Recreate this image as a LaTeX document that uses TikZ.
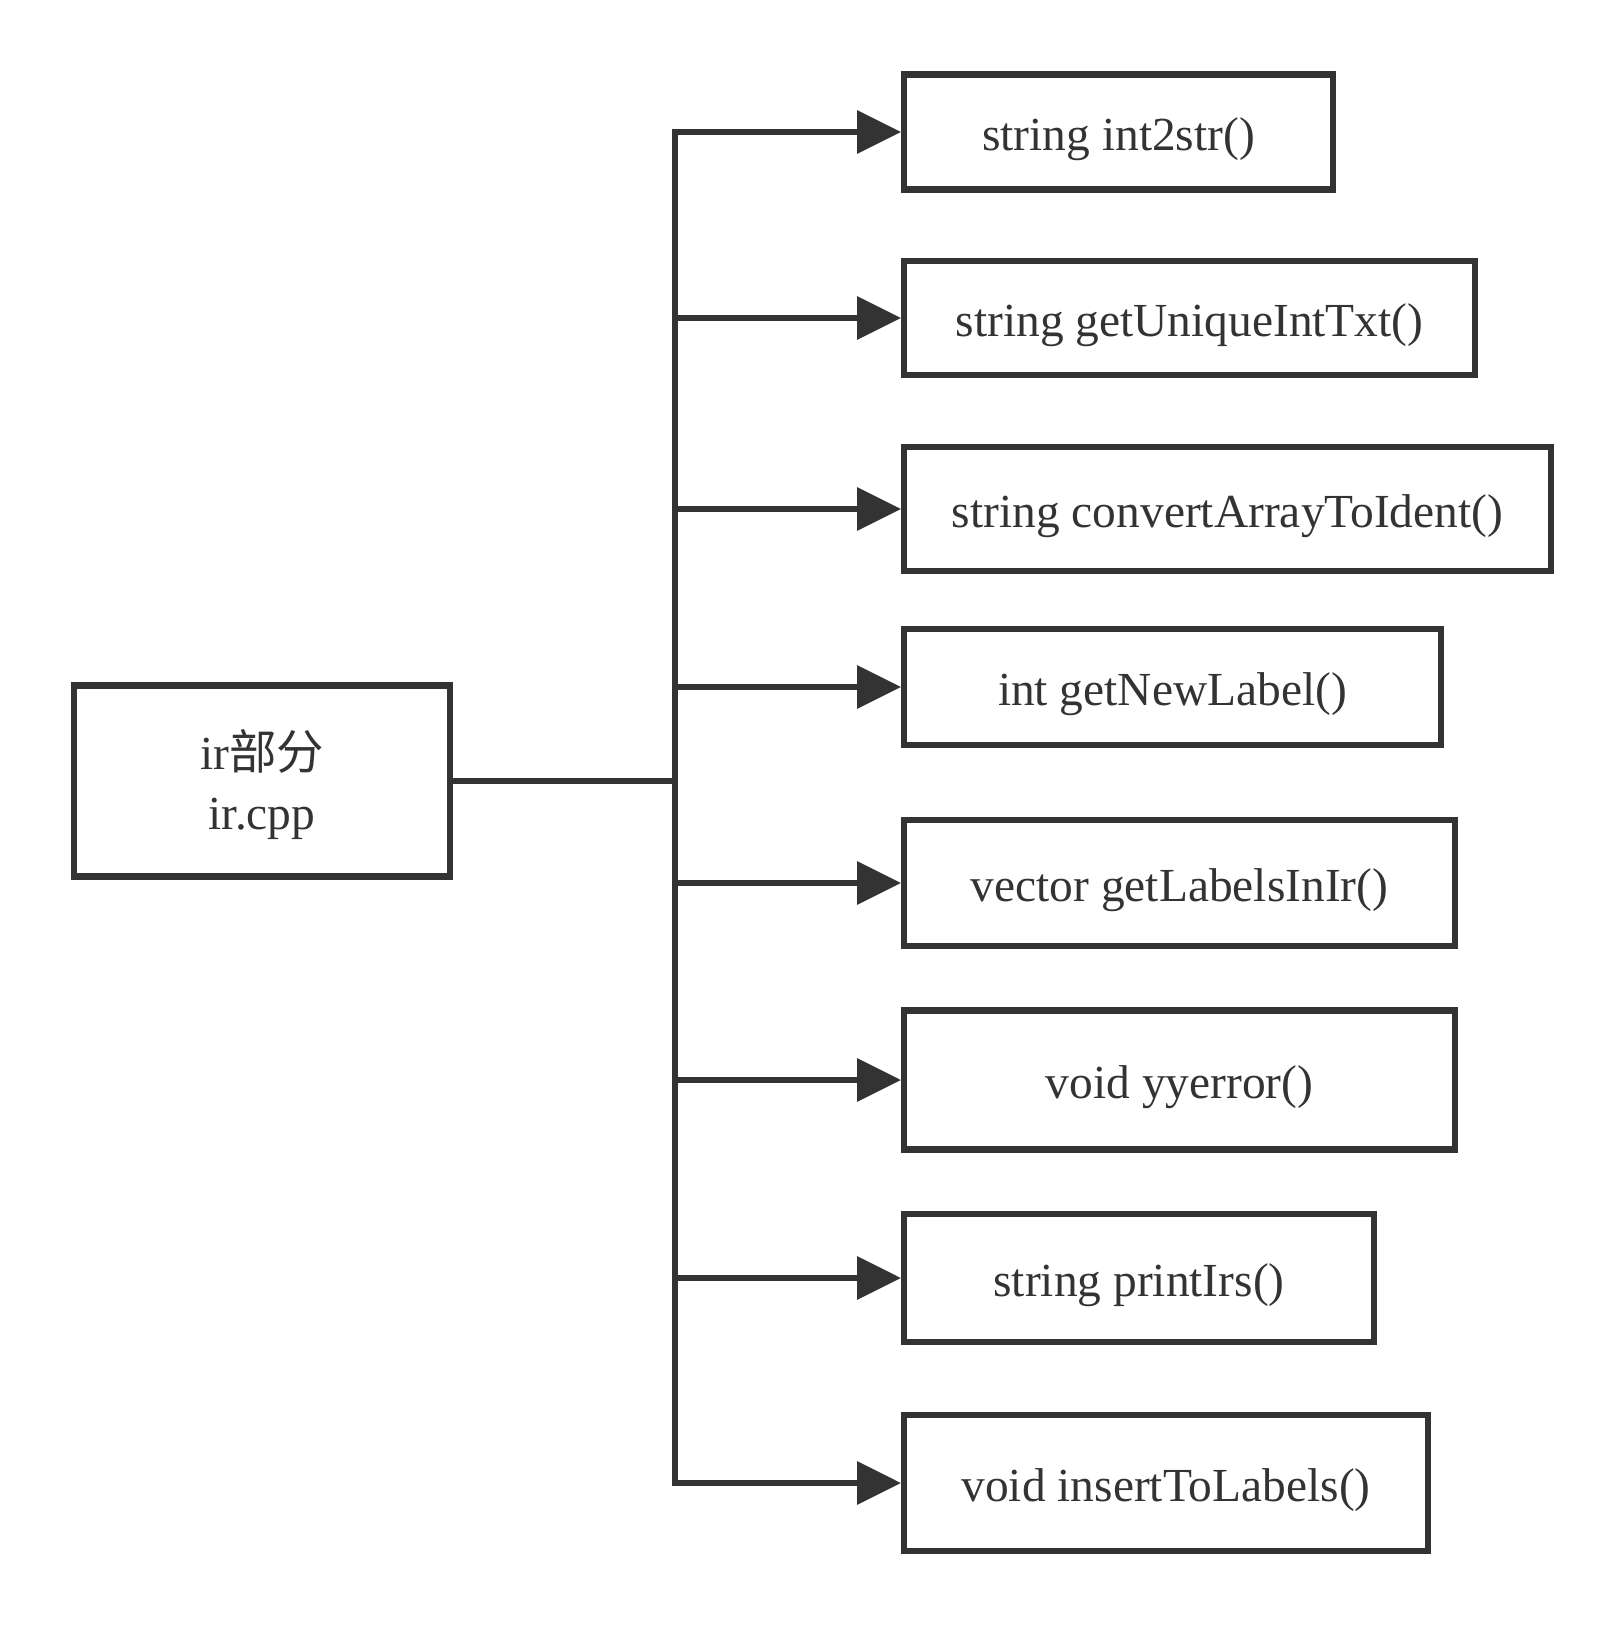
\documentclass[tikz,border=0pt]{standalone}
\usepackage{fontspec}
\setmainfont{Liberation Serif}
\newfontfamily\cjk{Noto Sans CJK SC}
\usetikzlibrary{arrows.meta}
\definecolor{irLine}{RGB}{51,51,51}

\begin{document}
\begin{tikzpicture}[x=0.02cm, y=-0.02cm,
    irBox/.style={draw=irLine, line width=3.5pt, text=irLine, inner sep=0pt,
        font=\fontsize{27}{34}\selectfont, align=center},
    fnBox/.style={irBox, anchor=west, text height=27pt, text depth=6pt},
    irLink/.style={draw=irLine, line width=3.5pt},
    irArrow/.style={irLink, -{Triangle[length=25pt,width=24pt]}},
]
\useasboundingbox (0,0) rectangle (1622,1628);
% source file
\node[irBox, minimum width=7.52cm, minimum height=3.82cm, text depth=1.5pt] (src) at (262,781) {ir{\cjk 部分}\\ir.cpp};
\coordinate (trunk) at (675,781);
% functions
\node[fnBox, minimum width=8.58cm, minimum height=2.30cm] (f1) at (901,132) {string int2str()};
\node[fnBox, minimum width=11.42cm, minimum height=2.28cm] (f2) at (901,318) {string getUniqueIntTxt()};
\node[fnBox, minimum width=12.94cm, minimum height=2.48cm] (f3) at (901,509) {string convertArrayToIdent()};
\node[fnBox, minimum width=10.74cm, minimum height=2.32cm] (f4) at (901,687) {int getNewLabel()};
\node[fnBox, minimum width=11.02cm, minimum height=2.52cm] (f5) at (901,883) {vector getLabelsInIr()};
\node[fnBox, minimum width=11.02cm, minimum height=2.78cm] (f6) at (901,1080) {void yyerror()};
\node[fnBox, minimum width=9.40cm, minimum height=2.56cm] (f7) at (901,1278) {string printIrs()};
\node[fnBox, minimum width=10.48cm, minimum height=2.72cm] (f8) at (901,1483) {void insertToLabels()};
% connectors
\draw[irLink] (src.east) -- (trunk);
\foreach \f in {f1,f2,f3,f4,f5,f6,f7,f8}
    \draw[irArrow] (trunk) |- (\f.west);
\end{tikzpicture}
\end{document}
